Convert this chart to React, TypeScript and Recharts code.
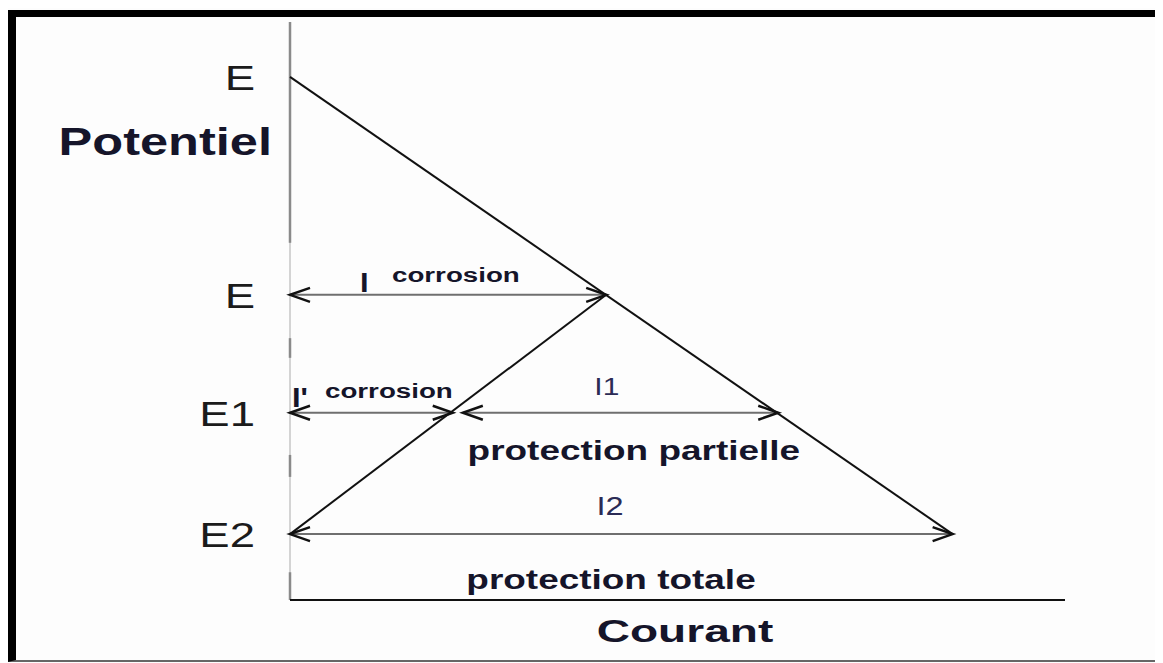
import React from 'react';
import { LineChart, Line, XAxis, YAxis, ReferenceLine } from 'recharts';

// potential levels (y) and their axis labels
const potentialTicks = [90.5, 52.8, 32.4, 11.4];
const potentialLabels = ['E', 'E', 'E1', 'E2'];

// polarisation lines (current i, potential e)
const anodicLine = [{ i: 0, e: 90.5 }, { i: 85.5, e: 11.4 }];
const cathodicLine = [{ i: 0, e: 11.4 }, { i: 40.8, e: 52.8 }];

// current arrows
const arrowNames = ['Icorr', 'Iprime', 'I1', 'I2'];
const arrowLevel = [52.8, 32.4, 32.4, 11.4];
const arrowFrom = [0, 0, 22.3, 0];
const arrowTo = [40.8, 21.0, 63.0, 85.5];

// darker pieces of the potential axis
const axisDashFrom = [61.8, 41.9, 21.3, 0];
const axisDashTo = [100, 45.3, 25.1, 4.8];

const FONT = '"Liberation Sans", Arial, sans-serif';
const INK = '#15152a';
const LABEL_INK = '#2b2b55';

const StretchText = ({ x, y, sx = 1.32, anchor = 'start', size, weight = 'normal', fill = INK, children }: any) => (
    <text
        transform={`translate(${x},${y}) scale(${sx},1)`}
        textAnchor={anchor}
        fontSize={size}
        fontWeight={weight}
        fill={fill}
        fontFamily={FONT}
    >
        {children}
    </text>
);

const head = (tx: number, ty: number, dir: number) => {
    const L = 20, H = 7;
    return (
        <polyline
            points={`${tx - dir * L},${ty - H} ${tx},${ty} ${tx - dir * L},${ty + H}`}
            fill="none"
            stroke="#111"
            strokeWidth={2.5}
            strokeLinejoin="miter"
        />
    );
};

const arrowLabels = (name: string, x1: number, y: number) => {
    switch (name) {
        case 'Icorr':
            return (
                <>
                    <StretchText x={x1 + 70} y={y - 3} size={28} weight="bold" sx={1.1}>I</StretchText>
                    <StretchText x={x1 + 102} y={y - 13} size={21} weight="bold">corrosion</StretchText>
                </>
            );
        case 'Iprime':
            return (
                <>
                    <StretchText x={x1 + 2} y={y - 6} size={28} weight="bold" sx={1.1}>I'</StretchText>
                    <StretchText x={x1 + 35} y={y - 15} size={21} weight="bold">corrosion</StretchText>
                </>
            );
        case 'I1':
            return (
                <>
                    <StretchText x={x1 + 144} y={y - 18} size={24} sx={1.25} anchor="middle" fill={LABEL_INK}>I1</StretchText>
                    <StretchText x={x1 + 171} y={y + 47} size={28} weight="bold" anchor="middle">protection partielle</StretchText>
                </>
            );
        default:
            return (
                <>
                    <StretchText x={x1 + 320} y={y - 19} size={26} sx={1.25} anchor="middle" fill={LABEL_INK}>I2</StretchText>
                    <StretchText x={x1 + 321} y={y + 55} size={28} weight="bold" anchor="middle">protection totale</StretchText>
                </>
            );
    }
};

const makeArrow = (name: string) => (props: any) => {
    const { x1, y1, x2, y2 } = props;
    return (
        <g>
            <line x1={x1} y1={y1} x2={x2} y2={y2} stroke="#6f6f6f" strokeWidth={2} />
            {head(x1, y1, -1)}
            {head(x2, y2, 1)}
            {arrowLabels(name, x1, y1)}
        </g>
    );
};

const PotentialTick = (props: any) => {
    const idx = potentialTicks.indexOf(props.payload.value);
    return (
        <StretchText x={props.x - 27} y={props.y + 13} size={35} sx={1.3} anchor="end" fill="#1b1b1b">
            {potentialLabels[idx]}
        </StretchText>
    );
};

export default function App() {
    return (
        <div style={{ position: 'relative', width: 1155, height: 655, background: '#fdfdfd' }}>
            <LineChart
                width={1155}
                height={655}
                margin={{ top: 14, right: 98, bottom: 3, left: 182 }}
                style={{ position: 'absolute', left: 0, top: 0 }}
            >
                <XAxis
                    type="number"
                    dataKey="i"
                    domain={[0, 100]}
                    height={60}
                    tick={false}
                    tickLine={false}
                    axisLine={{ stroke: '#111', strokeWidth: 2 }}
                    label={{
                        content: ({ viewBox }: any) => (
                            <StretchText x={viewBox.x + 395} y={viewBox.y + 42} size={32} sx={1.44} weight="bold" anchor="middle">
                                Courant
                            </StretchText>
                        ),
                    }}
                />
                <YAxis
                    type="number"
                    dataKey="e"
                    domain={[0, 100]}
                    width={100}
                    ticks={potentialTicks}
                    tick={<PotentialTick />}
                    tickLine={false}
                    axisLine={false}
                    label={{
                        content: ({ viewBox }: any) => (
                            <StretchText x={viewBox.x + viewBox.width - 18} y={viewBox.y + 133} size={38} sx={1.33} weight="bold" anchor="end">
                                Potentiel
                            </StretchText>
                        ),
                    }}
                />
                <ReferenceLine segment={[{ x: 0, y: 0 }, { x: 0, y: 100 }]} stroke="#d4d4d4" strokeWidth={2} />
                {axisDashFrom.map((f, k) => (
                    <ReferenceLine
                        key={`dash-${k}`}
                        segment={[{ x: 0, y: f }, { x: 0, y: axisDashTo[k] }]}
                        stroke="#8a8a8a"
                        strokeWidth={2.5}
                    />
                ))}
                {arrowNames.map((name, k) => (
                    <ReferenceLine
                        key={name}
                        segment={[{ x: arrowFrom[k], y: arrowLevel[k] }, { x: arrowTo[k], y: arrowLevel[k] }]}
                        shape={makeArrow(name)}
                    />
                ))}
                <Line data={anodicLine} dataKey="e" type="linear" stroke="#111" strokeWidth={2} dot={false} isAnimationActive={false} />
                <Line data={cathodicLine} dataKey="e" type="linear" stroke="#111" strokeWidth={2} dot={false} isAnimationActive={false} />
            </LineChart>
            <div
                style={{
                    position: 'absolute',
                    left: 0,
                    top: 2,
                    width: 1154,
                    height: 652,
                    boxSizing: 'border-box',
                    borderTop: '7px solid #000',
                    borderLeft: '8px solid #000',
                    borderRight: '2px solid #222',
                    borderBottom: '2px solid #666',
                    pointerEvents: 'none',
                }}
            />
        </div>
    );
}
